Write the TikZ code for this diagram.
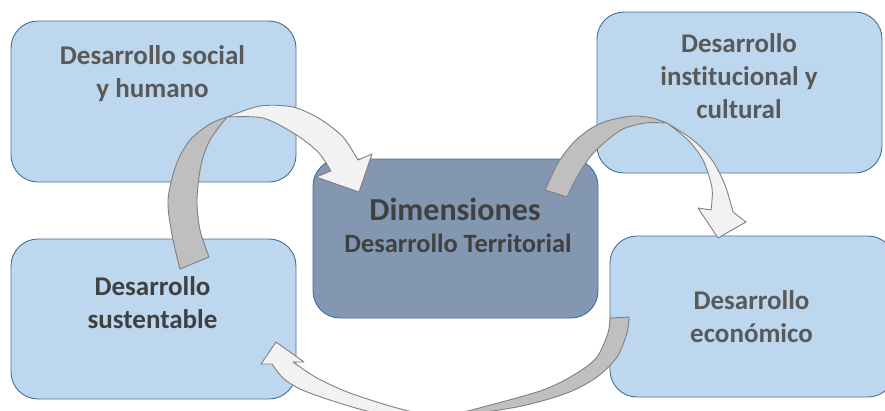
\documentclass[tikz,border=0pt]{standalone}
\usepackage{fontspec}
\setmainfont{Carlito}[Ligatures={NoCommon}]
\definecolor{lfill}{HTML}{BDD7EE}
\definecolor{dfill}{HTML}{8497B0}
\definecolor{bord}{HTML}{41719C}
\definecolor{tgray}{HTML}{595959}
\definecolor{tdark}{HTML}{404040}
\definecolor{gback}{HTML}{BFBFBF}
\definecolor{gfront}{HTML}{F2F2F2}
\definecolor{gline}{HTML}{808080}
\begin{document}
\begin{tikzpicture}[x=1pt,y=-1pt,
  boxbase/.style={draw=bord,line width=0.9pt,rounded corners=27pt,minimum width=285pt,inner sep=0pt},
  lbox/.style={boxbase,fill=lfill},
  dbox/.style={boxbase,fill=dfill},
  lbl/.style={align=center,inner sep=0pt,anchor=base,font=\fontsize{27}{33}\selectfont\bfseries},
  gband/.style={fill=gback,draw=gline,line width=0.9pt,line join=round},
  lband/.style={fill=gfront,draw=gline,line width=0.9pt,line join=round}]
\useasboundingbox (0,0) rectangle (885,410);
\clip (0,0) rectangle (885,410);
% boxes
\node[lbox,minimum height=161pt] (soc) at (153.5,101.5) {};
\node[lbox,minimum height=161pt] (inst) at (739.5,92.5) {};
\node[lbox,minimum height=160pt] (sus) at (153.5,319) {};
\node[lbox,minimum height=161pt] (eco) at (752.5,316.5) {};
\node[dbox,minimum height=159pt] (dim) at (455.5,238.5) {};
% arrow 1: sustentable -> dimensiones
\path[gband] plot[smooth] coordinates {(180,269) (172,235) (168,200) (176,165) (190,140) (210,124) (227,117)}
  -- plot[smooth] coordinates {(227,117) (210,140) (201,165) (197,200) (200,230) (209,257)} -- cycle;
\path[lband] plot[smooth] coordinates {(227,117) (260,106) (293,107) (320,119) (343,137) (358,160)}
  -- (372,154) -- (359,192) -- (316,177) -- (331,171)
  -- plot[smooth] coordinates {(331,171) (318,152) (295,134) (263,118) (227,117)} -- cycle;
% arrow 2: dimensiones -> economico
\path[gband] plot[smooth] coordinates {(545,190) (558,163) (573,143) (590,129) (607,121) (632,116) (652,118) (667,123)}
  -- plot[smooth] coordinates {(667,123) (645,123) (623,129) (605,142) (590,157) (577,177) (567,197)} -- cycle;
\path[lband] plot[smooth] coordinates {(667,123) (693,140) (712,160) (725,185) (733,212)}
  -- (746,222) -- (718,238) -- (698,208) -- (711,210)
  -- plot[smooth] coordinates {(711,210) (712,188) (703,160) (688,140) (667,123)} -- cycle;
% arrow 3: economico -> sustentable
\path[gband] plot[smooth] coordinates {(629,317) (627,333) (617,357) (597,377) (567,393) (517,407) (440,418)}
  -- plot[smooth] coordinates {(440,418) (483,407) (543,390) (577,373) (597,357) (608,333) (610,318)} -- cycle;
\path[lband] plot[smooth] coordinates {(440,418) (397,408) (350,393) (317,378) (293,362)}
  -- (304,362) -- (276,342) -- (261,364) -- (272,364)
  -- plot[smooth] coordinates {(272,364) (283,378) (300,389) (333,401) (377,413) (440,418)} -- cycle;
% texts (anchor base = baseline of last line)
\node[lbl,text=tgray] (tsoc) at (152.5,97) {Desarrollo social\\y humano};
\node[lbl,text=tgray] (tinst) at (739,118) {Desarrollo\\institucional y\\cultural};
\node[lbl,text=tdark] (tsus) at (152.5,328) {Desarrollo\\sustentable};
\node[lbl,text=tgray] (teco) at (751.5,342) {Desarrollo\\económico};
\node[lbl,text=tdark,font=\fontsize{32}{38}\selectfont\bfseries] (tdim) at (455,220) {Dimensiones};
\node[lbl,text=tdark,font=\fontsize{26.4}{31}\selectfont\bfseries] (tter) at (458,252) {Desarrollo Territorial};
\end{tikzpicture}
\end{document}
